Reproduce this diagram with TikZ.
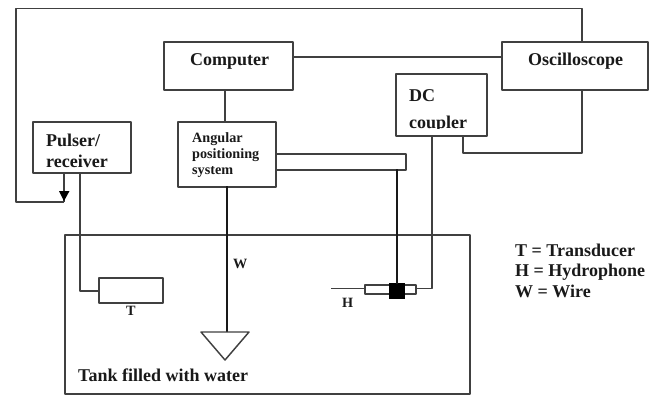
\documentclass[tikz,border=0pt]{standalone}
\usepackage{fontspec}
\setmainfont{Liberation Serif}
\definecolor{ink}{gray}{0.25}
\tikzset{
  x=1pt,y=-1pt,
  wire/.style={draw=ink,line width=1.45pt,line join=round},
  heavy/.style={draw=black!90,line width=2.4pt},
  boxs/.style={draw=ink,line width=1.6pt,line join=round,fill=white,inner sep=0pt,anchor=north west},
  lab/.style={inner sep=0pt,anchor=base west,font=\fontsize{18}{20}\selectfont\bfseries,text=black!90},
  small/.style={inner sep=0pt,anchor=base west,font=\fontsize{14.2}{16}\selectfont\bfseries,text=black!90},
}
\newcommand{\bx}[6]{\node[boxs,minimum width=#4pt-#2pt,minimum height=#5pt-#3pt] (#1) at (#2,#3) {#6};}
\begin{document}
\begin{tikzpicture}
\useasboundingbox (0,0) rectangle (652,394);
\fill[white] (0,0) rectangle (652,394);
% boxes
\bx{tank}{64}{234}{469}{393}{}
\bx{computer}{163}{41}{292}{89}{}
\bx{angular}{177}{121}{275}{186}{}
\bx{pulser}{32}{121}{130}{172}{}
\bx{scope}{501}{41}{647}{89}{}
\bx{coupler}{395}{73}{486}{135}{}
\bx{arm}{275}{153}{405}{169}{}
\bx{trans}{98}{277}{162}{302}{}
\bx{hydro}{364}{284}{415}{293}{}
\node[fill=black,inner sep=0pt,minimum width=16pt,minimum height=16pt,anchor=north west] (block) at (388.5,283) {};
% coordinates
\coordinate (looptopL) at (16,8.5);
\coordinate (looptopR) at (582,8.5);
\coordinate (loopbot) at (16,202);
\coordinate (arrowend) at (64,202);
\coordinate (arrowstart) at (64,172);
\coordinate (pulseOut) at (80,172);
\coordinate (transBend) at (80,291);
\coordinate (transIn) at (98,291);
\coordinate (hleft) at (331,288.5);
\coordinate (hin) at (364,288.5);
\coordinate (hout) at (415,288.5);
\coordinate (hbend) at (432,288.5);
\coordinate (dcIn) at (432,135);
\coordinate (dcOut) at (463,135);
\coordinate (dcBend) at (463,153);
\coordinate (scopeBend) at (582,153);
\coordinate (scopeBot) at (582,89);
\coordinate (scopeTop) at (582,41);
\coordinate (compBot) at (225,89);
\coordinate (angTop) at (225,121);
\coordinate (compR) at (292,57);
\coordinate (scopeL) at (501,57);
\coordinate (angBot) at (227,186);
\coordinate (wEnd) at (227,332);
\coordinate (armBot) at (397,169);
\coordinate (armEnd) at (397,284);
% connectors
\draw[wire] (scopeTop) -- (looptopR) -- (looptopL) -- (loopbot) -- (arrowend);
\draw[wire] (arrowstart) -- (arrowend);
\fill[black] (59,191) -- (69.5,191) -- (64,201) -- cycle;
\draw[wire] (pulseOut) -- (transBend) -- (transIn);
\draw[wire] (compR) -- (scopeL);
\draw[wire] (compBot) -- (angTop);
\draw[wire] (scopeBot) -- (scopeBend) -- (dcBend) -- (dcOut);
\draw[wire] (hout) -- (hbend) -- (dcIn);
\draw[wire] (hleft) -- (hin);
\draw[heavy] (angBot) -- (wEnd);
\draw[heavy] (armBot) -- (armEnd);
\draw[wire] (201,332) -- (249,332) -- (225,360) -- cycle;
% labels
\node[lab] (t1) at (190,65) {Computer};
\node[lab] (t2) at (528,65) {Oscilloscope};
\node[lab] (t3) at (409,101) {DC};
\begin{scope}
\clip (400,110) rectangle (480,128.5);
\node[lab] (t4) at (409,128) {coupler};
\end{scope}
\node[lab] (t5) at (46,146) {Pulser/};
\node[lab] (t6) at (46,167) {receiver};
\node[small] (t7) at (192,142) {Angular};
\node[small] (t8) at (192,158) {positioning};
\node[small] (t9) at (192,174) {system};
\node[small] (t10) at (233,268) {W};
\node[small] (t11) at (126,315) {T};
\node[small] (t12) at (342,307) {H};
\node[lab] (t13) at (78,381) {Tank filled with water};
\node[lab] (t14) at (515,256) {T = Transducer};
\node[lab] (t15) at (515,276.7) {H = Hydrophone};
\node[lab] (t16) at (515,297.7) {W = Wire};
\end{tikzpicture}
\end{document}
